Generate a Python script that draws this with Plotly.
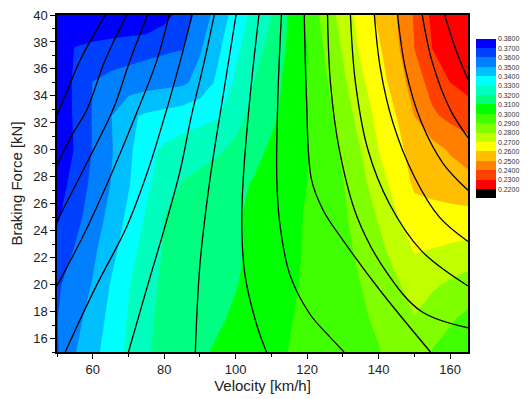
import plotly.graph_objects as go

# ---- data -------------------------------------------------------------
velocity = [50, 55, 60, 65, 70, 75, 80, 85, 90, 95, 100, 105, 110, 115,
            120, 125, 130, 135, 140, 145, 150, 155, 160, 165]
force = [15, 17.5, 20, 22.5, 25, 27.5, 30, 32.5, 35, 37.5, 40]

mu = [
    [0.361, 0.3505, 0.343, 0.3355, 0.328, 0.3209, 0.3174, 0.3144, 0.3114, 0.3088, 0.3065, 0.3043, 0.3021, 0.2998, 0.298, 0.2961, 0.2942, 0.2923, 0.2905, 0.2865, 0.2815, 0.2905, 0.293, 0.295],
    [0.3603, 0.3535, 0.3457, 0.3373, 0.3292, 0.3215, 0.3181, 0.3158, 0.3135, 0.3112, 0.3087, 0.306, 0.3032, 0.3005, 0.2982, 0.296, 0.2936, 0.2914, 0.2884, 0.2845, 0.2805, 0.285, 0.289, 0.292],
    [0.3615, 0.3556, 0.3494, 0.3396, 0.3307, 0.3225, 0.3186, 0.3165, 0.3145, 0.3124, 0.3104, 0.3076, 0.3045, 0.3015, 0.2986, 0.2957, 0.2929, 0.29, 0.2857, 0.2813, 0.2755, 0.2785, 0.2815, 0.2845],
    [0.366, 0.3593, 0.3521, 0.3434, 0.3343, 0.3254, 0.3192, 0.3172, 0.3152, 0.3132, 0.3112, 0.3087, 0.3055, 0.3023, 0.299, 0.2957, 0.2923, 0.2883, 0.2828, 0.2762, 0.2695, 0.2705, 0.272, 0.2735],
    [0.3715, 0.3633, 0.3554, 0.3471, 0.3377, 0.3288, 0.32, 0.3177, 0.3155, 0.3132, 0.3109, 0.3082, 0.3053, 0.3024, 0.2992, 0.2954, 0.2915, 0.286, 0.2792, 0.2708, 0.2637, 0.2635, 0.2633, 0.2632],
    [0.375, 0.3664, 0.3577, 0.35, 0.3409, 0.3318, 0.325, 0.3195, 0.317, 0.3145, 0.312, 0.3094, 0.3063, 0.3031, 0.30, 0.2952, 0.2905, 0.2831, 0.2745, 0.2662, 0.2585, 0.2568, 0.2552, 0.2535],
    [0.378, 0.3694, 0.3595, 0.3512, 0.3423, 0.3329, 0.3284, 0.326, 0.3237, 0.3214, 0.3175, 0.313, 0.3084, 0.3044, 0.3004, 0.2947, 0.2883, 0.28, 0.27, 0.2633, 0.2555, 0.2535, 0.249, 0.245],
    [0.3795, 0.3684, 0.3595, 0.3505, 0.3418, 0.3385, 0.3365, 0.3346, 0.3327, 0.3308, 0.324, 0.317, 0.312, 0.3063, 0.30, 0.2933, 0.2855, 0.276, 0.2671, 0.26, 0.25, 0.2417, 0.2375, 0.2345],
    [0.3797, 0.368, 0.3598, 0.357, 0.3555, 0.354, 0.353, 0.352, 0.3467, 0.338, 0.3283, 0.32, 0.3138, 0.3071, 0.30, 0.2917, 0.282, 0.272, 0.2643, 0.2556, 0.245, 0.2363, 0.23, 0.227],
    [0.3798, 0.3695, 0.3675, 0.366, 0.3645, 0.363, 0.3615, 0.3603, 0.351, 0.3418, 0.332, 0.3243, 0.3167, 0.3083, 0.30, 0.289, 0.2789, 0.2686, 0.2614, 0.252, 0.24, 0.23, 0.2265, 0.224],
    [0.3799, 0.3798, 0.3797, 0.3796, 0.3795, 0.3794, 0.3735, 0.366, 0.356, 0.346, 0.336, 0.327, 0.32, 0.309, 0.298, 0.286, 0.276, 0.266, 0.258, 0.25, 0.239, 0.228, 0.224, 0.221],
]

level_values = [0.22, 0.23, 0.24, 0.25, 0.26, 0.27, 0.28, 0.29, 0.30,
                0.31, 0.32, 0.33, 0.34, 0.35, 0.36, 0.37, 0.38]
level_labels = ["0.2200", "0.2300", "0.2400", "0.2500", "0.2600", "0.2700",
                "0.2800", "0.2900", "0.3000", "0.3100", "0.3200", "0.3300",
                "0.3400", "0.3500", "0.3600", "0.3700", "0.3800"]

# band colours from the lowest band (below first level) to the highest
band_colors = ["#ffffff", "#000000", "#ff0000", "#ff4000", "#ff8000", "#ffbf00",
               "#ffff00", "#bfff00", "#80ff00", "#40ff00", "#00ff00", "#00ff80",
               "#00ffbf", "#00ffff", "#00bfff", "#0080ff", "#0040ff", "#0000ff",
               "#ffffff"]

# black iso-curves (velocity, braking force)
curve_v = [
    [50, 53, 56.4, 60, 63.5],
    [50, 54, 58.4, 63.4, 69.5],
    [50, 58.3, 65.7, 70.4, 75.3],
    [50, 58.4, 65.7, 72.7, 77.9, 81.4],
    [52.3, 60.6, 69.5, 75.5, 80.7, 84.5, 87.8],
    [70, 75.1, 80.2, 84.5, 87.6, 91, 94],
    [88.7, 90, 92.8, 96.4, 100.1],
    [108.6, 105.9, 102.6, 101.7, 102.1, 104, 106.5],
    [130.3, 126.4, 120.8, 115.2, 112.4, 111.5, 111.8, 112.8],
    [154.5, 140.3, 130, 124.5, 121.2, 119.8, 119.2],
    [165, 152, 142, 134, 129, 126.5, 125.7],
    [165, 152, 143, 137, 133.5, 132.1],
    [165, 157, 150, 144, 140.5, 138.8],
    [165, 158, 152, 147.5, 145.3],
    [165, 160, 155, 152.2],
    [165, 161.5, 158.5],
]
curve_f = [
    [32.6, 34.5, 36.6, 38.4, 40],
    [28.9, 31, 33, 36.6, 40],
    [24.7, 29, 33, 36.6, 40],
    [19.9, 24.2, 28.5, 33, 36.6, 40],
    [15, 19.7, 24.3, 28.5, 33, 36.6, 40],
    [15, 19.7, 24.3, 28.5, 32.5, 36.3, 40],
    [15, 21.5, 27.8, 33.9, 40],
    [15, 17, 20.7, 24.4, 27.8, 33.9, 40],
    [15, 16.1, 17.8, 20.7, 24.4, 27.8, 33.9, 40],
    [15, 19.6, 23.3, 25.5, 27.8, 33.9, 40],
    [16.8, 18, 21, 25, 30, 35, 40],
    [19.9, 22.5, 26, 30, 35, 40],
    [23.2, 25, 28, 32, 36, 40],
    [27, 29, 32, 36, 40],
    [30.9, 33, 36.5, 40],
    [35.2, 37.5, 40],
]

# ---- figure -----------------------------------------------------------
n_bands = len(band_colors)
colorscale = []
for k, c in enumerate(band_colors):
    lo = max(0.0, (k - 0.5) / (n_bands - 1))
    hi = min(1.0, (k + 0.5) / (n_bands - 1))
    colorscale.append([lo, c])
    colorscale.append([hi, c])

font_family = "Arial, 'Liberation Sans', sans-serif"

fig = go.Figure()
fig.add_trace(go.Contour(
    x=velocity, y=force, z=mu,
    autocontour=False,
    contours=dict(start=0.21, end=0.38, size=0.01, coloring="fill",
                  showlines=False),
    line=dict(width=0, smoothing=0),
    colorscale=colorscale,
    hoverinfo="skip",
    colorbar=dict(
        x=1.0195, xanchor="left", xpad=0, ypad=0,
        y=0.9427, yanchor="top", len=0.5027, lenmode="fraction",
        thickness=20, thicknessmode="pixels",
        outlinewidth=0,
        tickvals=level_values, ticktext=level_labels,
        ticks="", ticklen=0,
        tickfont=dict(family=font_family, size=7, color="#333333"),
    ),
))

for cv, cf in zip(curve_v, curve_f):
    fig.add_trace(go.Scatter(
        x=cv, y=cf, mode="lines",
        line=dict(color="black", width=1.3, shape="spline", smoothing=1),
        showlegend=False, hoverinfo="skip",
    ))

axis_common = dict(
    showgrid=False, zeroline=False, showline=True, linecolor="black",
    linewidth=1.5, mirror=True, ticks="outside", ticklen=5, tickwidth=1,
    tickcolor="black", automargin=False, ticklabeloverflow="allow",
    tickfont=dict(family=font_family, size=13, color="#222222"),
)

# the page body adds an 8 px offset, so the figure is 8 px smaller
fig.update_layout(
    width=523, height=391,
    margin=dict(l=49, r=63, t=7, b=47, autoexpand=False),
    paper_bgcolor="white", plot_bgcolor="white",
    showlegend=False,
    font=dict(family=font_family),
    xaxis=dict(
        range=[50, 165], tick0=0, dtick=20,
        minor=dict(tick0=0, dtick=10, ticks="outside", ticklen=3,
                   tickcolor="black"),
        title=dict(text="Velocity [km/h]",
                   font=dict(family=font_family, size=15, color="#222222"),
                   standoff=2),
        **axis_common,
    ),
    yaxis=dict(
        range=[15, 40], tick0=0, dtick=2,
        minor=dict(tick0=0, dtick=1, ticks="outside", ticklen=3,
                   tickcolor="black"),
        title=dict(text="Braking Force [kN]",
                   font=dict(family=font_family, size=15, color="#222222"),
                   standoff=8),
        **axis_common,
    ),
)

fig.write_html("out.html")
